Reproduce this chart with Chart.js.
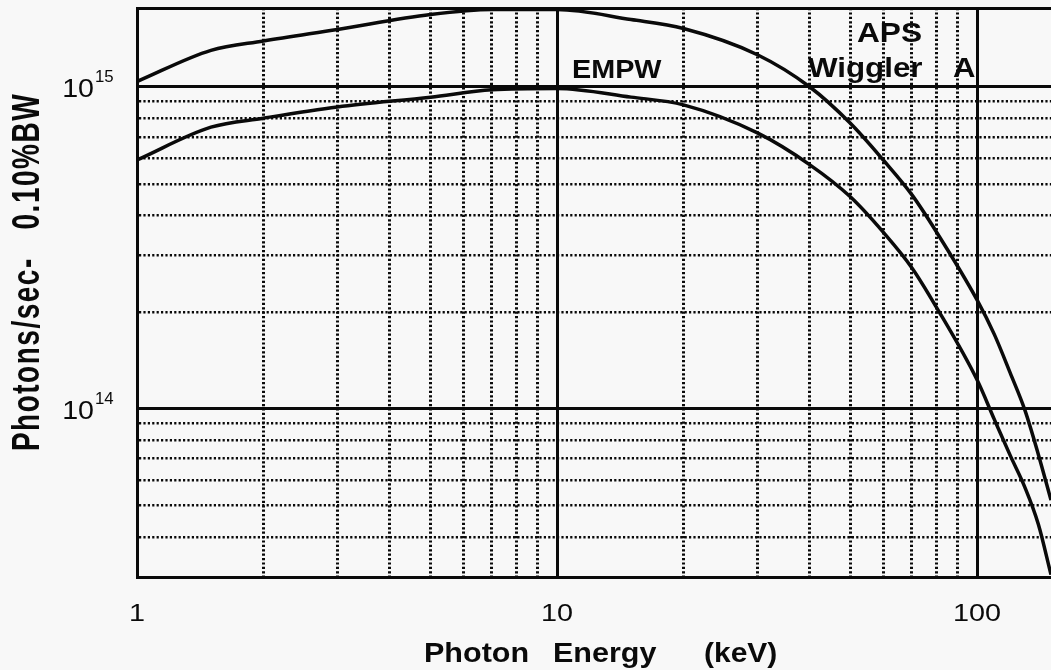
<!DOCTYPE html>
<html>
<head>
<meta charset="utf-8">
<script src="https://cdn.jsdelivr.net/npm/chart.js@4/dist/chart.umd.min.js"></script>
<style>
  html, body { margin: 0; padding: 0; background: #f8f8f8; }
  canvas { display: block; }
</style>
</head>
<body>
<canvas id="chart" width="1051" height="670"></canvas>
<script>
// photon energy, keV
const energies = [1, 1.5, 2, 3, 5, 7, 10, 15, 20, 30, 40, 50, 60, 70, 80, 100, 110, 120, 130, 140, 150]

// photons/sec - 0.1% BW
const apsWiggler = [1.04e15, 1.30e15, 1.39e15, 1.51e15, 1.68e15, 1.74e15, 1.74e15, 1.62e15, 1.52e15, 1.26e15,
  1.0e15, 7.7e14, 5.9e14, 4.62e14, 3.55e14, 2.18e14, 1.70e14, 1.29e14, 9.9e13, 7.2e13, 5.2e13]
const empw = [5.93e14, 7.5e14, 8.0e14, 8.67e14, 9.3e14, 9.8e14, 9.9e14, 9.3e14, 8.8e14, 7.2e14,
  5.73e14, 4.55e14, 3.52e14, 2.74e14, 2.07e14, 1.23e14, 9.25e13, 7.15e13, 5.7e13, 4.37e13, 3.05e13]

const xTicks = [1, 2, 3, 4, 5, 6, 7, 8, 9, 10, 20, 30, 40, 50, 60, 70, 80, 90, 100]
const xLabels = [1, 10, 100]
const yTicks = [3e13, 4e13, 5e13, 6e13, 7e13, 8e13, 9e13, 1e14, 2e14, 3e14, 4e14, 5e14, 6e14, 7e14, 8e14, 9e14, 1e15, 1.76e15]
const yLabels = [[1e15, '15'], [1e14, '14']]

const ink = '#0a0a0a'
const fontFamily = '"Liberation Sans", Arial, sans-serif'

const isDecade = (v) => Math.abs(Math.log10(v) - Math.round(Math.log10(v))) < 1e-6
const isSolid = (scale, v) => isDecade(v) || v >= scale.max

function drawText(ctx, text, x, y, size, sx, align = 'left', bold = true) {
  ctx.save()
  ctx.font = `${bold ? 'bold ' : ''}${size}px ${fontFamily}`
  ctx.fillStyle = ink
  ctx.textAlign = align
  ctx.textBaseline = 'alphabetic'
  ctx.translate(x, y)
  ctx.scale(sx, 1)
  ctx.fillText(text, 0, 0)
  ctx.restore()
}

const labelsPlugin = {
  id: 'labels',
  afterDraw(chart) {
    const { ctx } = chart
    const { x, y } = chart.scales

    xLabels.forEach((v) => {
      drawText(ctx, String(v), x.getPixelForValue(v), 621, 24, 1.2, 'center', false)
    })
    yLabels.forEach(([v, exp]) => {
      const py = y.getPixelForValue(v)
      drawText(ctx, '10', 94, py + 10, 26, 1.1, 'right', false)
      drawText(ctx, exp, 95, py - 5, 16, 1.05, 'left', false)
    })

    drawText(ctx, 'Photon', 424, 662, 28, 1.09)
    drawText(ctx, 'Energy', 553, 662, 28, 1.09)
    drawText(ctx, '(keV)', 704, 662, 28, 1.07)

    ctx.save()
    ctx.font = `bold 28px ${fontFamily}`
    ctx.fillStyle = ink
    ctx.textAlign = 'center'
    ctx.textBaseline = 'middle'
    ctx.letterSpacing = '1.5px'
    ctx.translate(28, 272)
    ctx.scale(1.4, 1)
    ctx.rotate(-Math.PI / 2)
    ctx.fillText('Photons/sec-   0.10%BW', 0, 0)
    ctx.restore()

    drawText(ctx, 'EMPW', 572, 78, 25, 1.15)
    drawText(ctx, 'APS', 857, 42, 28, 1.13)
    drawText(ctx, 'Wiggler', 808, 77, 27, 1.16)
    drawText(ctx, 'A', 953, 77, 27, 1.15)
  },
}

function gridFor(values, minorWidth) {
  return {
    afterBuildTicks: (scale) => {
      scale.ticks = values.map((v) => ({ value: v }))
    },
    grid: {
      drawTicks: false,
      color: ink,
      lineWidth: (c) => (c.tick && isSolid(c.scale, c.tick.value) ? 3 : minorWidth),
    },
    border: {
      color: ink,
      width: 3,
      dash: (c) => (c.tick && !isSolid(c.scale, c.tick.value) ? [2.2, 2.2] : []),
    },
    ticks: { display: false },
  }
}

const xAxis = {
  type: 'logarithmic',
  min: 1,
  max: 150,
  ...gridFor(xTicks, 3),
  afterFit: (scale) => { scale.height = 93 },
}
const yAxis = {
  type: 'logarithmic',
  min: 3e13,
  max: 1.76e15,
  ...gridFor(yTicks, 2.5),
  afterFit: (scale) => { scale.width = 137 },
}

const line = (label, values) => ({
  label,
  data: energies.map((e, i) => ({ x: e, y: values[i] })),
  borderColor: ink,
  borderWidth: 3.5,
  pointRadius: 0,
  cubicInterpolationMode: 'monotone',
})

new Chart(document.getElementById('chart'), {
  type: 'line',
  data: {
    datasets: [line('APS Wiggler A', apsWiggler), line('EMPW', empw)],
  },
  options: {
    responsive: false,
    animation: false,
    devicePixelRatio: 1,
    events: [],
    layout: { padding: { left: 0, right: 0, top: 8, bottom: 0 } },
    scales: { x: xAxis, y: yAxis },
    plugins: {
      legend: { display: false },
      tooltip: { enabled: false },
    },
  },
  plugins: [labelsPlugin],
})
</script>
</body>
</html>
